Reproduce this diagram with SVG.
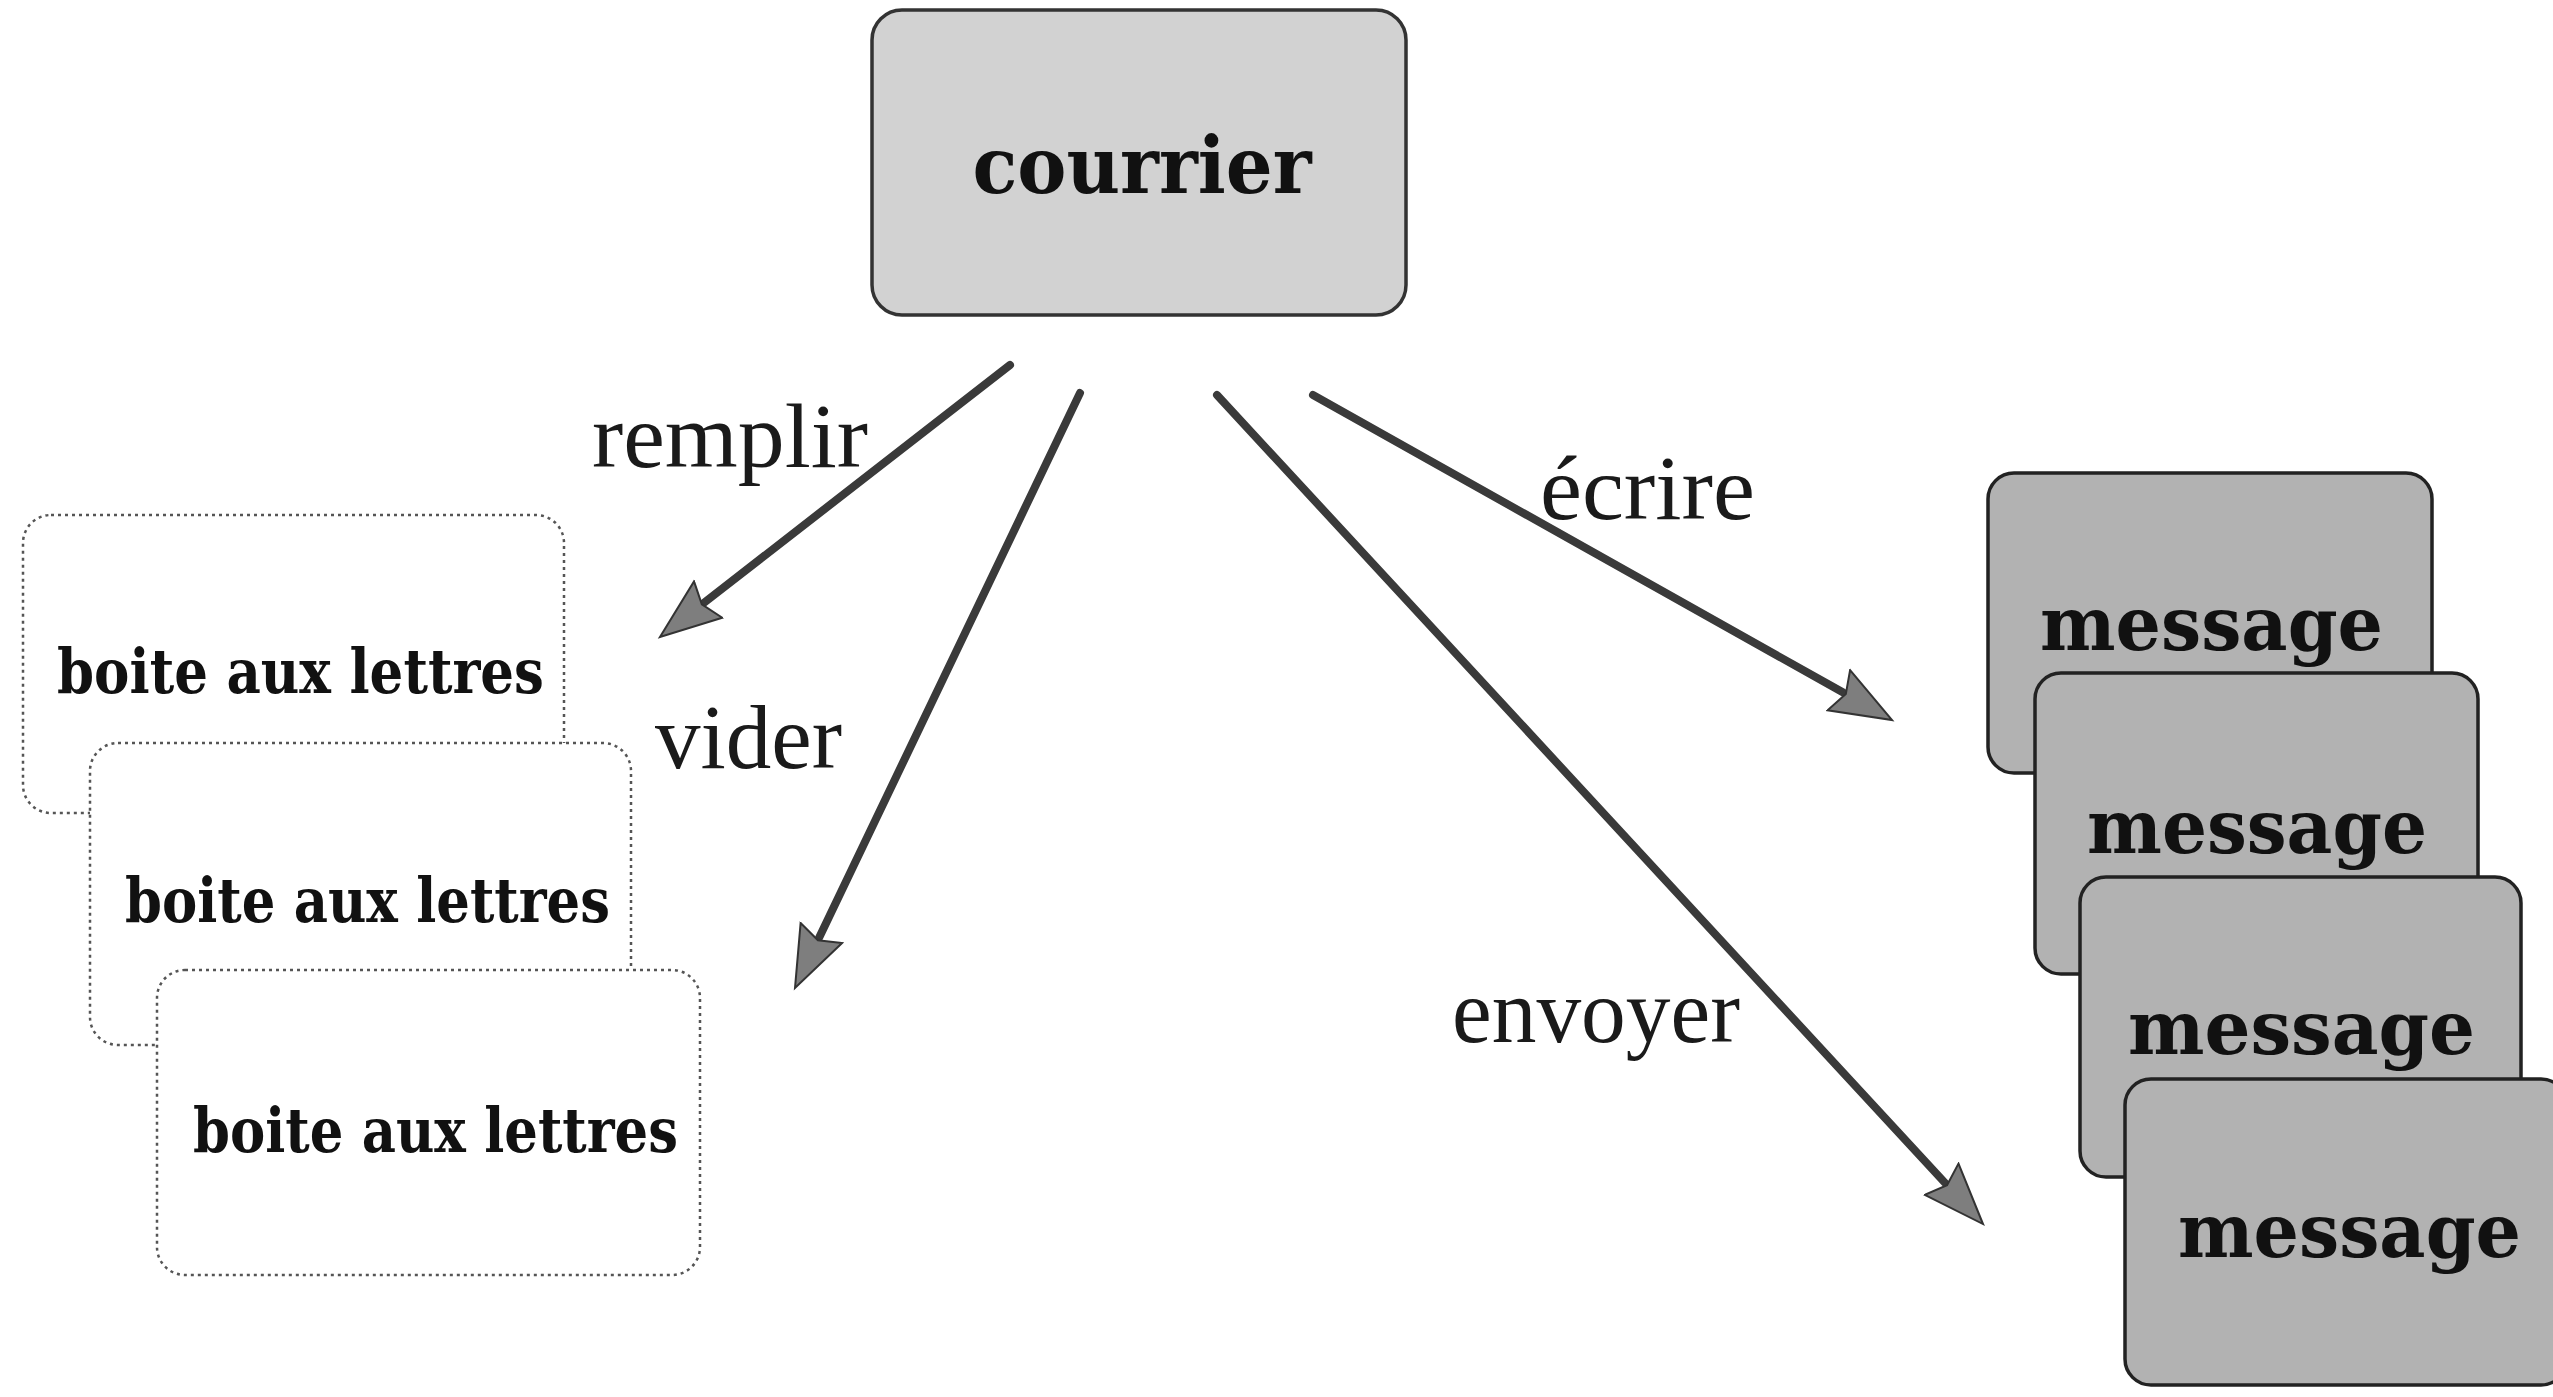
<svg xmlns="http://www.w3.org/2000/svg" width="2553" height="1397" viewBox="0 0 2553 1397">
<style>
.bg{fill:#ffffff}
.boite rect{fill:#ffffff;stroke:#555;stroke-width:2.5;stroke-dasharray:3 4}
.boite text{font-family:"DejaVu Serif","Liberation Serif",serif;font-weight:bold;font-size:62px;fill:#111}
.msg rect{fill:#b2b2b2;stroke:#222;stroke-width:3.5}
.msg text{font-family:"DejaVu Serif","Liberation Serif",serif;font-weight:bold;font-size:74px;fill:#111}
.cour rect{fill:#d2d2d2;stroke:#333;stroke-width:3.5}
.cour text{font-family:"DejaVu Serif","Liberation Serif",serif;font-weight:bold;font-size:78px;fill:#111}
.edge{stroke:#3a3a3a;stroke-width:8;stroke-linecap:round;fill:none}
.lbl{font-family:"Liberation Serif","DejaVu Serif",serif;font-size:92px;fill:#1a1a1a}
</style>
<defs>
<marker id="ah" markerUnits="userSpaceOnUse" markerWidth="70" markerHeight="52" refX="6" refY="25" orient="auto">
<path d="M1,2 L62,25 L1,48 L9,25 Z" fill="#7e7e7e" stroke="#333" stroke-width="2"/>
</marker>
</defs>
<rect class="bg" x="0" y="0" width="2553" height="1397"/>

<g id="courrier" class="cour">
<rect x="872" y="10" width="534" height="305" rx="30" ry="30"/>
<text x="1142" y="193" text-anchor="middle" textLength="339" lengthAdjust="spacingAndGlyphs">courrier</text>
</g>

<g id="boite1" class="boite">
<rect x="23" y="515" width="541" height="298" rx="28" ry="28"/>
<text x="57" y="693" textLength="487" lengthAdjust="spacingAndGlyphs">boite aux lettres</text>
</g>
<g id="boite2" class="boite">
<rect x="90" y="743" width="541" height="302" rx="28" ry="28"/>
<text x="125" y="922" textLength="485" lengthAdjust="spacingAndGlyphs">boite aux lettres</text>
</g>
<g id="boite3" class="boite">
<rect x="157" y="970" width="543" height="305" rx="28" ry="28"/>
<text x="193" y="1152" textLength="485" lengthAdjust="spacingAndGlyphs">boite aux lettres</text>
</g>

<g id="message1" class="msg">
<rect x="1988" y="473" width="444" height="300" rx="26" ry="26"/>
<text x="2040" y="650" textLength="343" lengthAdjust="spacingAndGlyphs">message</text>
</g>
<g id="message2" class="msg">
<rect x="2035" y="673" width="443" height="301" rx="26" ry="26"/>
<text x="2087" y="853" textLength="340" lengthAdjust="spacingAndGlyphs">message</text>
</g>
<g id="message3" class="msg">
<rect x="2080" y="877" width="441" height="300" rx="26" ry="26"/>
<text x="2128" y="1054" textLength="347" lengthAdjust="spacingAndGlyphs">message</text>
</g>
<g id="message4" class="msg">
<rect x="2125" y="1079" width="442" height="306" rx="26" ry="26"/>
<text x="2178" y="1257" textLength="343" lengthAdjust="spacingAndGlyphs">message</text>
</g>

<g id="connectors">
<line class="edge" x1="1010" y1="365" x2="704.2" y2="602.6" marker-end="url(#ah)"/>
<line class="edge" x1="1080" y1="393" x2="819.2" y2="937.5" marker-end="url(#ah)"/>
<line class="edge" x1="1313" y1="395" x2="1843.2" y2="692.6" marker-end="url(#ah)"/>
<line class="edge" x1="1217" y1="395" x2="1945" y2="1182.9" marker-end="url(#ah)"/>
<text class="lbl" x="592" y="467" textLength="276" lengthAdjust="spacingAndGlyphs">remplir</text>
<text class="lbl" x="655" y="768" textLength="187" lengthAdjust="spacingAndGlyphs">vider</text>
<text class="lbl" x="1540" y="519" textLength="215" lengthAdjust="spacingAndGlyphs">écrire</text>
<text class="lbl" x="1452" y="1042" textLength="288" lengthAdjust="spacingAndGlyphs">envoyer</text>
</g>
</svg>
